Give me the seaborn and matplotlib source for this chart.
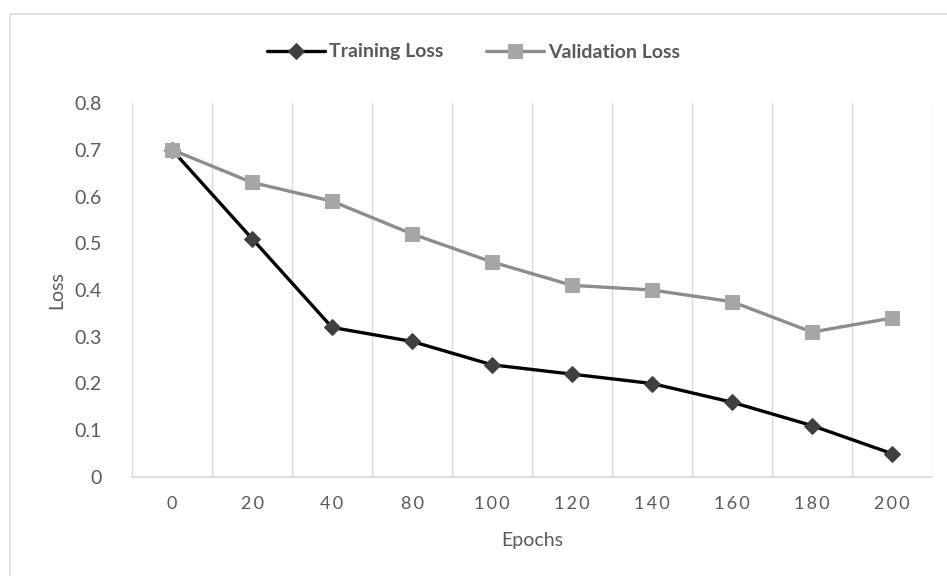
import matplotlib
matplotlib.use("Agg")
import matplotlib.pyplot as plt
from matplotlib.patches import Rectangle
import numpy as np
import pandas as pd
import seaborn as sns

# Data
epochs = ["0", "20", "40", "80", "100", "120", "140", "160", "180", "200"]
training_loss = [0.70, 0.51, 0.32, 0.29, 0.24, 0.22, 0.20, 0.16, 0.11, 0.05]
validation_loss = [0.70, 0.63, 0.59, 0.52, 0.46, 0.41, 0.40, 0.375, 0.31, 0.34]
y_ticks = [0, 0.1, 0.2, 0.3, 0.4, 0.5, 0.6, 0.7, 0.8]

df = pd.DataFrame({
    "pos": np.arange(len(epochs)),
    "Epochs": epochs,
    "Training Loss": training_loss,
    "Validation Loss": validation_loss,
})

sns.set_style("white")
plt.rcParams["font.family"] = ["Lato", "DejaVu Sans"]

TEXT = "#595959"
GRID = "#d9d9d9"

fig = plt.figure(figsize=(9.47, 5.76), dpi=100)
ax = fig.add_axes([132 / 947, 1 - 477 / 576, 800 / 947, 374 / 576])

# Outer chart border
fig.patches.append(Rectangle((10 / 947, -0.1), 2.0, 1.1 - 14 / 576,
                             transform=fig.transFigure, fill=False,
                             edgecolor=GRID, linewidth=1.2, zorder=0))

sns.lineplot(data=df, x="pos", y="Training Loss", ax=ax, color="black",
             linewidth=2.4, marker="D", markersize=8,
             markerfacecolor="#404040", markeredgecolor="#404040",
             label="Training Loss", zorder=3)
sns.lineplot(data=df, x="pos", y="Validation Loss", ax=ax, color="#8c8c8c",
             linewidth=2.4, marker="s", markersize=10,
             markerfacecolor="#a6a6a6", markeredgecolor="#a6a6a6",
             label="Validation Loss", zorder=4)

ax.set_xlim(-0.5, len(epochs) - 0.5)
ax.set_ylim(0, 0.8)
ax.set_xticks(df["pos"])
ax.set_xticklabels(["\u2009".join(e) for e in epochs], color=TEXT, fontsize=13)
ax.set_yticks(y_ticks)
ax.set_yticklabels([f"{v:g}" for v in y_ticks], color=TEXT, fontsize=14)
ax.tick_params(axis="both", length=0)
ax.tick_params(axis="x", pad=14)
ax.tick_params(axis="y", pad=22)

# Category boundary gridlines
for b in np.arange(-0.5, len(epochs), 1.0):
    ax.axvline(b, color=GRID, linewidth=1, zorder=0)

for side in ["top", "right", "left"]:
    ax.spines[side].set_visible(False)
ax.spines["bottom"].set_color(GRID)
ax.spines["bottom"].set_linewidth(1.2)

ax.set_xlabel("Epochs", color=TEXT, fontsize=14, labelpad=14)
ax.set_ylabel("Loss", color=TEXT, fontsize=14, labelpad=6)

ax.legend(loc="center", bbox_to_anchor=(0.5, 1 - 52 / 576),
          bbox_transform=fig.transFigure, ncol=2, frameon=False,
          prop={"weight": "bold", "size": 14}, labelcolor=TEXT,
          handlelength=3.0, columnspacing=2.2, handletextpad=0.2)

fig.savefig("out.png", dpi=100, facecolor="white")
